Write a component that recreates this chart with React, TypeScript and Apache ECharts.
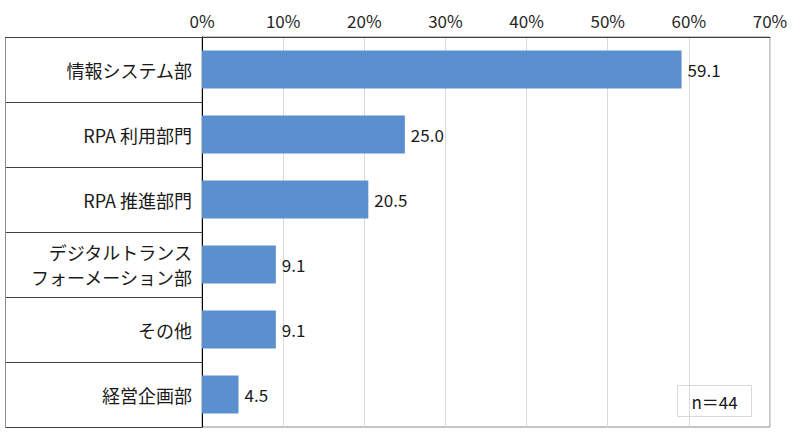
import React, { useEffect, useRef } from "react";
import * as echarts from "echarts";

const categories = [
  "情報システム部",
  "RPA 利用部門",
  "RPA 推進部門",
  "デジタルトランス\nフォーメーション部",
  "その他",
  "経営企画部",
];
const values = [59.1, 25.0, 20.5, 9.1, 9.1, 4.5];
const tickMax = 70;
const tickStep = 10;
const noteText = "n＝44";

const FONT = "'Noto Sans CJK JP', 'Noto Sans', sans-serif";

export default function App() {
  const ref = useRef<HTMLDivElement>(null);
  useEffect(() => {
    if (!ref.current) return;
    const chart = echarts.init(ref.current, undefined, { renderer: "svg" });
    chart.setOption({
      animation: false,
      backgroundColor: "#ffffff",
      textStyle: { fontFamily: FONT },
      grid: {
        left: 202,
        right: 30,
        top: 37,
        bottom: 20,
        show: true,
        borderColor: "#8c8c8c",
        borderWidth: 1,
        backgroundColor: "transparent",
      },
      xAxis: {
        type: "value",
        position: "top",
        min: 0,
        max: tickMax,
        interval: tickStep,
        axisLine: { show: true, lineStyle: { color: "#404040", width: 1 } },
        axisTick: { show: false },
        axisLabel: {
          formatter: "{value}%",
          fontSize: 17,
          color: "#262626",
          fontFamily: FONT,
          margin: 8,
        },
        splitLine: { show: true, lineStyle: { color: "#d9d9d9", width: 1 } },
      },
      yAxis: {
        type: "category",
        inverse: true,
        data: categories,
        axisLine: { show: true, lineStyle: { color: "#000000", width: 1 } },
        axisTick: {
          show: true,
          length: 196,
          lineStyle: { color: "#404040", width: 1 },
        },
        axisLabel: {
          fontSize: 18,
          color: "#1a1a1a",
          fontFamily: FONT,
          margin: 10,
          lineHeight: 25,
          align: "right",
        },
        splitLine: { show: false },
      },
      graphic: [
        {
          type: "line",
          shape: { x1: 5.5, y1: 37, x2: 5.5, y2: 427 },
          style: { stroke: "#8c8c8c", lineWidth: 1 },
        },
        {
          type: "line",
          shape: { x1: 5, y1: 37.5, x2: 202, y2: 37.5 },
          style: { stroke: "#404040", lineWidth: 1 },
        },
        {
          type: "line",
          shape: { x1: 5, y1: 427.5, x2: 202, y2: 427.5 },
          style: { stroke: "#8c8c8c", lineWidth: 1 },
        },
        {
          type: "group",
          right: 48,
          bottom: 30,
          children: [
            {
              type: "rect",
              shape: { x: 0, y: 0, width: 74, height: 31 },
              style: { fill: "#ffffff", stroke: "#d9d9d9", lineWidth: 1 },
            },
            {
              type: "text",
              x: 37,
              y: 15.5,
              style: {
                text: noteText,
                fontSize: 17,
                fontFamily: FONT,
                fill: "#1a1a1a",
                align: "center",
                verticalAlign: "middle",
              },
            },
          ],
        },
      ],
      series: [
        {
          type: "bar",
          data: values,
          barWidth: 38,
          itemStyle: { color: "#5a8fd0" },
          label: {
            show: true,
            position: "right",
            distance: 6,
            fontSize: 17,
            fontFamily: FONT,
            color: "#1a1a1a",
            formatter: (p: any) => Number(p.value).toFixed(1),
          },
        },
      ],
    });
    return () => chart.dispose();
  }, []);
  return (
    <div
      ref={ref}
      style={{ position: "absolute", left: 0, top: 0, width: 800, height: 447 }}
    />
  );
}
